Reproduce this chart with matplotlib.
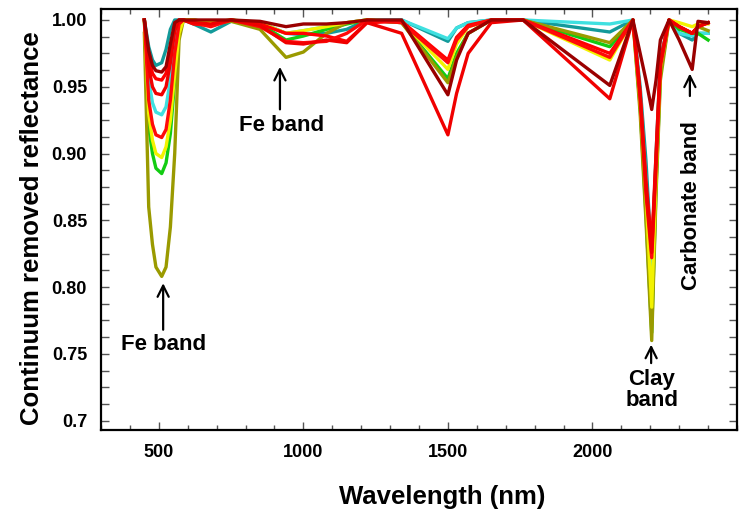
import matplotlib.pyplot as plt
from matplotlib.ticker import FixedLocator, MultipleLocator

# wavelength grid (nm) shared by all spectra
wavelength = [450, 465, 478, 490, 510, 525, 540, 555, 570, 585,
              620, 680, 750, 850, 940, 1000, 1080, 1150, 1220, 1340,
              1500, 1530, 1570, 1650, 1760, 2060, 2140, 2165, 2185, 2205,
              2220, 2235, 2265, 2300, 2345, 2365, 2400]

teal = [1.0, 0.98, 0.97, 0.966, 0.968, 0.978, 0.993, 1.0, 1.0, 1.0,
        0.997, 0.991, 0.999, 0.998, 0.99, 0.989, 0.99, 0.993, 1.0, 1.0,
        0.984, 0.994, 0.998, 1.0, 1.0, 0.991, 1.0, 0.95, 0.895, 0.82,
        0.9, 0.97, 1.0, 0.99, 0.985, 0.99, 0.99]
cyan = [1.0, 0.955, 0.938, 0.931, 0.929, 0.935, 0.955, 0.985, 1.0, 1.0,
        1.0, 0.998, 1.0, 0.998, 0.99, 0.992, 0.995, 0.998, 1.0, 1.0,
        0.986, 0.994, 0.998, 1.0, 1.0, 0.997, 1.0, 0.945, 0.88, 0.79,
        0.89, 0.97, 1.0, 0.99, 0.988, 0.99, 0.99]
green = [1.0, 0.92, 0.9, 0.889, 0.885, 0.893, 0.915, 0.955, 0.99, 1.0,
         1.0, 0.998, 1.0, 0.997, 0.985, 0.988, 0.993, 0.997, 1.0, 0.998,
         0.956, 0.975, 0.99, 1.0, 1.0, 0.98, 1.0, 0.935, 0.855, 0.766,
         0.875, 0.96, 1.0, 0.993, 0.99, 0.99, 0.985]
olive = [0.99, 0.86, 0.832, 0.815, 0.808, 0.815, 0.845, 0.9, 0.985, 1.0,
         1.0, 0.997, 0.999, 0.993, 0.972, 0.976, 0.99, 0.998, 1.0, 0.998,
         0.953, 0.972, 0.99, 1.0, 1.0, 0.983, 1.0, 0.93, 0.85, 0.760,
         0.87, 0.955, 1.0, 0.995, 0.99, 0.995, 0.992]
yellow = [1.0, 0.93, 0.91, 0.9, 0.897, 0.905, 0.925, 0.96, 0.99, 1.0,
          1.0, 0.998, 1.0, 0.998, 0.99, 0.992, 0.995, 0.998, 1.0, 0.999,
          0.963, 0.982, 0.995, 1.0, 1.0, 0.970, 1.0, 0.94, 0.87, 0.785,
          0.885, 0.965, 1.0, 0.998, 0.995, 0.997, 0.997]
red_a = [1.0, 0.972, 0.96, 0.956, 0.955, 0.96, 0.977, 0.996, 1.0, 1.0,
         0.997, 0.996, 1.0, 0.997, 0.99, 0.99, 0.988, 0.984, 0.998, 0.999,
         0.97, 0.987, 0.996, 1.0, 1.0, 0.975, 1.0, 0.945, 0.88, 0.83,
         0.9, 0.97, 1.0, 0.995, 0.99, 0.995, 0.998]
red_b = [1.0, 0.94, 0.922, 0.914, 0.912, 0.918, 0.94, 0.975, 0.997, 1.0,
         0.998, 0.995, 1.0, 0.995, 0.984, 0.983, 0.984, 0.99, 1.0, 0.998,
         0.968, 0.985, 0.995, 1.0, 1.0, 0.972, 1.0, 0.94, 0.87, 0.822,
         0.89, 0.965, 1.0, 0.995, 0.99, 0.995, 0.998]
red_c = [1.0, 0.965, 0.95, 0.945, 0.944, 0.95, 0.968, 0.992, 1.0, 1.0,
         0.998, 0.997, 1.0, 0.996, 0.983, 0.982, 0.985, 0.983, 0.998, 0.99,
         0.914, 0.945, 0.975, 0.998, 1.0, 0.941, 1.0, 0.945, 0.875, 0.826,
         0.895, 0.968, 1.0, 0.995, 0.99, 0.995, 0.998]
dark_red = [1.0, 0.977, 0.966, 0.962, 0.961, 0.965, 0.982, 0.998, 1.0, 1.0,
            1.0, 1.0, 1.0, 0.999, 0.995, 0.997, 0.997, 0.998, 1.0, 1.0,
            0.944, 0.97, 0.99, 1.0, 1.0, 0.951, 1.0, 0.975, 0.955, 0.933,
            0.955, 0.985, 1.0, 0.985, 0.963, 0.999, 0.998]

y_ticks = [0.7, 0.75, 0.80, 0.85, 0.90, 0.95, 1.00]
y_tick_labels = ["0.7", "0.75", "0.80", "0.85", "0.90", "0.95", "1.00"]
x_ticks = [500, 1000, 1500, 2000]

plt.rcParams['font.family'] = ['Liberation Sans', 'DejaVu Sans']
plt.rcParams['font.weight'] = 'bold'

fig = plt.figure(figsize=(7.41, 5.12), dpi=100)
ax = fig.add_axes([101 / 741, 1 - 430 / 512, 636 / 741, 420.7 / 512])

spectra = [
    (teal, "#139a9a"),
    (cyan, "#3fe0e0"),
    (green, "#12cc12"),
    (olive, "#9a9a00"),
    (yellow, "#f2f200"),
    (red_a, "#ff0000"),
    (red_b, "#ff0a0a"),
    (red_c, "#f00000"),
    (dark_red, "#9a0000"),
]
for values, color in spectra:
    ax.plot(wavelength, values, color=color, lw=2.4, solid_joinstyle="round")

ax.set_xlim(300, 2500)
ax.set_ylim(0.693, 1.008)
ax.xaxis.set_major_locator(FixedLocator(x_ticks))
ax.xaxis.set_minor_locator(MultipleLocator(100))
ax.yaxis.set_major_locator(FixedLocator(y_ticks))
ax.yaxis.set_minor_locator(MultipleLocator(0.0125))
ax.set_yticklabels(y_tick_labels)

ax.tick_params(which="both", direction="in", top=True, right=True,
               color="#555555", labelsize=13)
ax.tick_params(axis="x", which="major", length=6, width=1, pad=10)
ax.tick_params(axis="x", which="minor", length=3.5, width=1)
ax.tick_params(axis="y", which="both", length=6, width=1, pad=10)
for spine in ax.spines.values():
    spine.set_linewidth(1.6)

fig.text(442 / 741, 1 - 497 / 512, "Wavelength (nm)", ha="center",
         va="center", fontsize=18.5)
fig.text(32 / 741, 1 - 228 / 512, "Continuum removed reflectance",
         ha="center", va="center", rotation=90, fontsize=18.5)

arrow = dict(arrowstyle="->", lw=1.6, color="black", mutation_scale=20)
ax.annotate("", xy=(515, 0.805), xytext=(515, 0.766), arrowprops=arrow)
ax.text(518, 0.757, "Fe band", ha="center", va="center", fontsize=16)
ax.annotate("", xy=(919, 0.967), xytext=(919, 0.931), arrowprops=arrow)
ax.text(926, 0.921, "Fe band", ha="center", va="center", fontsize=16)
ax.annotate("", xy=(2203, 0.759), xytext=(2203, 0.741), arrowprops=arrow)
ax.text(2206, 0.723, "Clay\nband", ha="center", va="center", fontsize=16,
        linespacing=1.05)
ax.annotate("", xy=(2337, 0.962), xytext=(2337, 0.941), arrowprops=arrow)
ax.text(2341, 0.861, "Carbonate band", ha="center", va="center",
        rotation=90, fontsize=16)

fig.savefig("out.png", dpi=100)
